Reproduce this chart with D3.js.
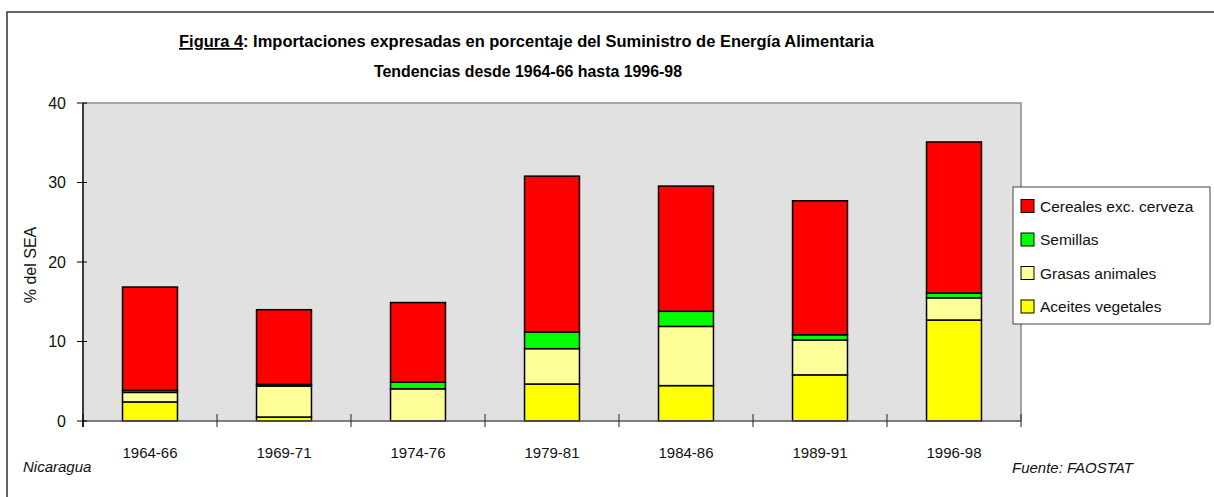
<!DOCTYPE html>
<html>
<head>
<meta charset="utf-8">
<script src="https://cdn.jsdelivr.net/npm/d3@7.9.0/dist/d3.min.js"></script>
<style>
  html, body { margin: 0; padding: 0; background: #fff; }
  svg { display: block; font-family: Arial, "Liberation Sans", sans-serif; }
</style>
</head>
<body>
<svg id="chart" width="1214" height="497"></svg>
<script>
// ---------------------------------------------------------------------------
// Data (% del SEA)
// ---------------------------------------------------------------------------
const categories = ['1964-66', '1969-71', '1974-76', '1979-81', '1984-86', '1989-91', '1996-98'];
const aceites    = [2.4, 0.5, 0.0, 4.65, 4.45, 5.8, 12.7];
const grasas     = [1.2, 3.9, 4.05, 4.45, 7.45, 4.4, 2.8];
const semillas   = [0.25, 0.2, 0.85, 2.1, 1.9, 0.65, 0.6];
const cereales   = [13.0, 9.4, 10.0, 19.6, 15.75, 16.85, 19.0];

const seriesKeys   = ['aceites', 'grasas', 'semillas', 'cereales'];
const seriesNames  = ['Aceites vegetales', 'Grasas animales', 'Semillas', 'Cereales exc. cerveza'];
const seriesColors = ['#ffff00', '#ffff99', '#00ff00', '#ff0000'];
const yTicks = [0, 10, 20, 30, 40];

const titleText    = 'Importaciones expresadas en porcentaje del Suministro de Energía Alimentaria';
const subtitleText = 'Tendencias desde 1964-66 hasta 1996-98';

// build the table d3.stack wants
const rows = categories.map((c, i) => ({
  cat: c, aceites: aceites[i], grasas: grasas[i], semillas: semillas[i], cereales: cereales[i]
}));

// ---------------------------------------------------------------------------
// Layout
// ---------------------------------------------------------------------------
const svg = d3.select('#chart');
const plot = { left: 83, right: 1021, top: 103, bottom: 421 };

const x = d3.scaleBand()
  .domain(categories)
  .range([plot.left, plot.right])
  .paddingInner(0.59)
  .paddingOuter(0.295);

const y = d3.scaleLinear()
  .domain([0, 40])
  .range([plot.bottom, plot.top]);

const color = d3.scaleOrdinal().domain(seriesKeys).range(seriesColors);

// outer frame (runs off the right/bottom like the source page)
svg.append('path')
  .attr('d', 'M7,500 L7,12 L1220,12')
  .attr('fill', 'none')
  .attr('stroke', '#333')
  .attr('stroke-width', 1.5);

// titles
const narrow = '"Liberation Sans Narrow", "Arial Narrow", "Liberation Sans", Arial, sans-serif';
svg.append('text')
  .attr('x', 179).attr('y', 47)
  .attr('textLength', 695).attr('lengthAdjust', 'spacingAndGlyphs')
  .style('font-family', narrow)
  .style('font-weight', 'bold').style('font-size', '17px')
  .call(t => {
    t.append('tspan').style('text-decoration', 'underline').text('Figura 4');
    t.append('tspan').text(': ' + titleText);
  });

svg.append('text')
  .attr('x', 374).attr('y', 77)
  .attr('textLength', 308).attr('lengthAdjust', 'spacingAndGlyphs')
  .style('font-family', narrow)
  .style('font-weight', 'bold').style('font-size', '17px')
  .text(subtitleText);

// plot background
svg.append('rect')
  .attr('x', plot.left).attr('y', plot.top)
  .attr('width', plot.right - plot.left).attr('height', plot.bottom - plot.top)
  .attr('fill', '#e1e1e1');

// top + right border of the plot area
svg.append('path')
  .attr('d', `M${plot.left},${plot.top} L${plot.right},${plot.top} L${plot.right},${plot.bottom}`)
  .attr('fill', 'none').attr('stroke', '#8c8c8c').attr('stroke-width', 1.5);

// ---------------------------------------------------------------------------
// Stacked bars
// ---------------------------------------------------------------------------
const stacked = d3.stack().keys(seriesKeys)(rows);

svg.append('g')
  .selectAll('g')
  .data(stacked)
  .join('g')
  .attr('fill', d => color(d.key))
  .selectAll('rect')
  .data(d => d.filter(s => s[1] - s[0] > 0))
  .join('rect')
  .attr('x', d => x(d.data.cat))
  .attr('width', x.bandwidth())
  .attr('y', d => y(d[1]))
  .attr('height', d => y(d[0]) - y(d[1]))
  .attr('stroke', '#000')
  .attr('stroke-width', 1.5);

// ---------------------------------------------------------------------------
// Axes
// ---------------------------------------------------------------------------
// x axis line + boundary ticks between categories
const gap = x.step() - x.bandwidth();
const boundaries = categories.map(c => x(c) - gap / 2).concat([plot.right]);

svg.append('line')
  .attr('x1', plot.left).attr('x2', plot.right)
  .attr('y1', y(0)).attr('y2', y(0))
  .attr('stroke', '#555').attr('stroke-width', 1.5);

svg.append('g')
  .selectAll('line')
  .data(boundaries)
  .join('line')
  .attr('x1', d => d).attr('x2', d => d)
  .attr('y1', y(0) - 7).attr('y2', y(0) + 6)
  .attr('stroke', '#222').attr('stroke-width', 1);

svg.append('g')
  .selectAll('text')
  .data(categories)
  .join('text')
  .attr('x', d => x(d) + x.bandwidth() / 2)
  .attr('y', 458)
  .attr('text-anchor', 'middle')
  .style('font-size', '15px')
  .attr('fill', '#111')
  .text(d => d);

// y axis
svg.append('line')
  .attr('x1', plot.left).attr('x2', plot.left)
  .attr('y1', plot.top).attr('y2', y(0) + 6)
  .attr('stroke', '#000').attr('stroke-width', 1.5);

const yAxis = svg.append('g');
yAxis.selectAll('line')
  .data(yTicks)
  .join('line')
  .attr('x1', plot.left - 6).attr('x2', plot.left + 4)
  .attr('y1', d => y(d)).attr('y2', d => y(d))
  .attr('stroke', '#000').attr('stroke-width', 1);

yAxis.selectAll('text')
  .data(yTicks)
  .join('text')
  .attr('x', 66)
  .attr('y', d => y(d))
  .attr('dy', '0.36em')
  .attr('text-anchor', 'end')
  .style('font-size', '16px')
  .attr('fill', '#111')
  .text(d => d);

svg.append('text')
  .attr('transform', `translate(36,${(plot.top + plot.bottom) / 2 + 3}) rotate(-90)`)
  .attr('text-anchor', 'middle')
  .style('font-size', '16px')
  .attr('fill', '#111')
  .text('% del SEA');

// ---------------------------------------------------------------------------
// Legend
// ---------------------------------------------------------------------------
const legend = svg.append('g');
legend.append('rect')
  .attr('x', 1013).attr('y', 187)
  .attr('width', 197).attr('height', 137)
  .attr('fill', '#fff').attr('stroke', '#444').attr('stroke-width', 1);

const legendOrder = seriesKeys.slice().reverse();
const legendItems = legend.selectAll('g.item')
  .data(legendOrder)
  .join('g')
  .attr('class', 'item')
  .attr('transform', (d, i) => `translate(1021,${206 + i * 33.5})`);

legendItems.append('rect')
  .attr('x', 0).attr('y', -6.5)
  .attr('width', 13).attr('height', 13)
  .attr('fill', d => color(d))
  .attr('stroke', '#000').attr('stroke-width', 1);

legendItems.append('text')
  .attr('x', 19).attr('y', 0)
  .attr('dy', '0.36em')
  .style('font-size', '15.5px')
  .attr('fill', '#111')
  .text(d => seriesNames[seriesKeys.indexOf(d)]);

// ---------------------------------------------------------------------------
// Footer notes
// ---------------------------------------------------------------------------
svg.append('text')
  .attr('x', 23).attr('y', 472)
  .style('font-size', '15px').style('font-style', 'italic')
  .attr('fill', '#111')
  .text('Nicaragua');

svg.append('text')
  .attr('x', 1012).attr('y', 473)
  .style('font-size', '15px').style('font-style', 'italic')
  .attr('fill', '#111')
  .text('Fuente: FAOSTAT');
</script>
</body>
</html>
